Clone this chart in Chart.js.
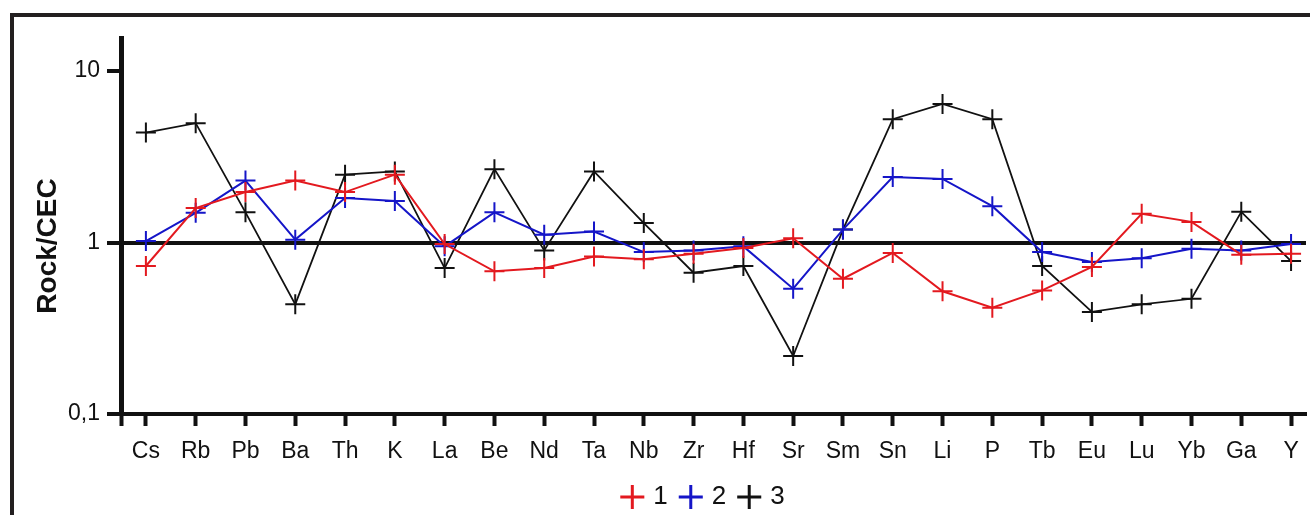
<!DOCTYPE html>
<html><head><meta charset="utf-8">
<script src="https://cdn.jsdelivr.net/npm/chart.js@4.4.1/dist/chart.umd.min.js"></script>
<style>
html,body{margin:0;padding:0;background:#fff;overflow:hidden;width:1310px;height:515px;}
#frame{position:absolute;left:10px;top:13px;width:1400px;height:600px;border:4px solid #231f20;box-sizing:border-box;}
#c{position:absolute;left:0;top:0;}
</style></head><body>
<div id="frame"></div>
<canvas id="c" width="1310" height="515"></canvas>
<script>
const CATEGORIES = ['Cs','Rb','Pb','Ba','Th','K','La','Be','Nd','Ta','Nb','Zr','Hf','Sr','Sm','Sn','Li','P','Tb','Eu','Lu','Yb','Ga','Y'];
const SERIES_1 = [0.73,1.59,1.97,2.30,1.97,2.49,0.98,0.68,0.71,0.83,0.80,0.86,0.93,1.06,0.615,0.87,0.52,0.417,0.526,0.72,1.47,1.32,0.85,0.86];
const SERIES_2 = [1.02,1.49,2.30,1.04,1.82,1.75,0.95,1.50,1.11,1.16,0.88,0.90,0.95,0.538,1.19,2.41,2.35,1.63,0.88,0.77,0.81,0.92,0.90,0.98];
const SERIES_3 = [4.38,4.97,1.50,0.436,2.49,2.60,0.71,2.68,0.90,2.60,1.30,0.667,0.73,0.218,1.19,5.24,6.43,5.24,0.73,0.394,0.436,0.47,1.51,0.78];
const SERIES_NAMES = ['1','2','3'];
const Y_TICK_VALUES = [0.1, 1, 10];
const Y_TICK_LABELS = ['0,1', '1', '10'];
const Y_TITLE = 'Rock/CEC';

const FONT = '"Liberation Sans", Arial, sans-serif';
const COLORS = ['#e3191f', '#1515c8', '#111111'];

function toPoints(arr){ return arr.map((v,i)=>({x:i, y:v})); }

const yTitlePlugin = {
  id: 'yTitle',
  afterLayout(chart){
    if (chart.legend) { chart.legend.left -= 9; chart.legend.right -= 9; }
  },
  afterDraw(chart){
    const ctx = chart.ctx;
    const mid = (chart.chartArea.top + chart.chartArea.bottom) / 2 + 20;
    ctx.save();
    ctx.translate(48, mid);
    ctx.rotate(-Math.PI/2);
    ctx.font = 'bold 28px ' + FONT;
    ctx.fillStyle = '#111';
    ctx.textAlign = 'center';
    ctx.textBaseline = 'middle';
    ctx.fillText(Y_TITLE, 0, 0);
    ctx.restore();
  }
};

function ds(label, data, color, bw){
  return {
    label: label,
    data: toPoints(data),
    borderColor: color,
    backgroundColor: color,
    borderWidth: bw,
    tension: 0,
    pointStyle: 'cross',
    pointRadius: 10,
    pointHoverRadius: 10,
    pointBorderWidth: 2,
    pointBorderColor: color
  };
}

new Chart(document.getElementById('c'), {
  type: 'line',
  data: {
    datasets: [
      ds(SERIES_NAMES[0], SERIES_1, COLORS[0], 2),
      ds(SERIES_NAMES[1], SERIES_2, COLORS[1], 2),
      ds(SERIES_NAMES[2], SERIES_3, COLORS[2], 1.8)
    ]
  },
  options: {
    responsive: false,
    animation: false,
    devicePixelRatio: 1,
    layout: { autoPadding: false, padding: { top: 38, right: 4, left: 0, bottom: 0 } },
    plugins: {
      tooltip: { enabled: false },
      legend: {
        position: 'bottom',
        fullSize: false,
        maxHeight: 46,
        labels: {
          usePointStyle: true,
          boxWidth: 16,
          boxHeight: 17,
          padding: 15,
          color: '#111',
          font: { size: 26, family: FONT },
          generateLabels: chart => chart.data.datasets.map((d,i)=>({
            text: d.label,
            fillStyle: 'rgba(0,0,0,0)',
            strokeStyle: d.borderColor,
            lineWidth: 3,
            pointStyle: 'cross',
            hidden: false,
            datasetIndex: i,
            fontColor: '#111'
          }))
        }
      }
    },
    scales: {
      x: {
        type: 'linear',
        min: -0.5,
        max: 23.3,
        afterBuildTicks: s => { s.ticks = [{value:-0.5}].concat(CATEGORIES.map((c,i)=>({value:i}))); },
        afterFit: s => { s.height = 55; s.paddingLeft = 0; s.paddingRight = 0; },
        ticks: {
          autoSkip: false,
          maxRotation: 0,
          minRotation: 0,
          padding: 12,
          color: '#111',
          font: { size: 23, family: FONT },
          callback: v => Number.isInteger(v) ? CATEGORIES[v] : ''
        },
        grid: {
          drawOnChartArea: false,
          drawTicks: true,
          tickLength: 12,
          tickWidth: 4,
          tickColor: '#111',
          color: '#111'
        },
        border: { display: true, width: 4, color: '#111' }
      },
      y: {
        type: 'logarithmic',
        min: 0.1,
        max: 15.6,
        afterBuildTicks: s => { s.ticks = Y_TICK_VALUES.map(v=>({value:v})); },
        afterFit: s => { s.width = 121; s.paddingTop = 0; s.paddingBottom = 0; },
        ticks: {
          padding: 7,
          color: '#111',
          font: { size: 23, family: FONT },
          callback: v => { const k = Y_TICK_VALUES.indexOf(v); return k >= 0 ? Y_TICK_LABELS[k] : ''; }
        },
        grid: {
          drawOnChartArea: true,
          color: c => (c.tick && c.tick.value === 1) ? '#111' : 'rgba(0,0,0,0)',
          lineWidth: 4,
          tickLength: 14,
          tickWidth: 4,
          tickColor: '#111'
        },
        border: { display: true, width: 5, color: '#111' }
      }
    }
  },
  plugins: [yTitlePlugin]
});
</script>
</body></html>
